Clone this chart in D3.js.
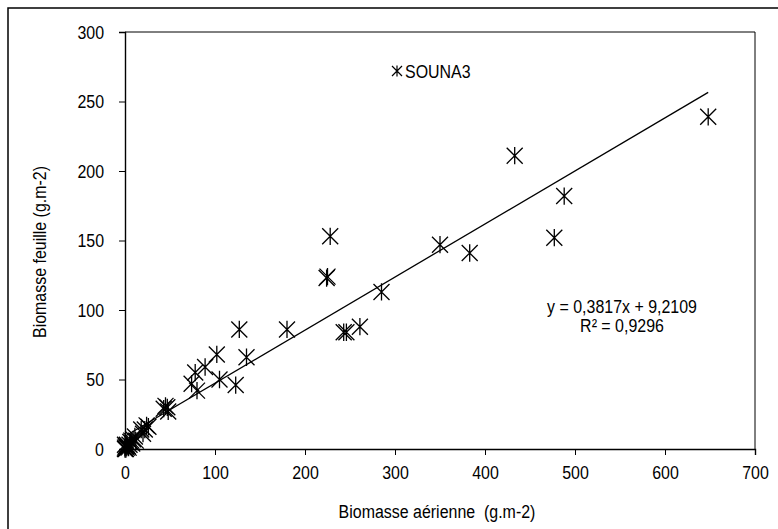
<!DOCTYPE html>
<html><head><meta charset="utf-8">
<script src="https://cdn.jsdelivr.net/npm/d3@7"></script>
<style>
body{margin:0;background:#fff;}
text{font-family:"Liberation Sans",Arial,sans-serif;fill:#000;}
</style></head>
<body><svg id="c" width="778" height="529"></svg>
<script>
// Data: Biomasse aérienne (x) vs Biomasse feuille (y), SOUNA3
const xValues = [0,0,1,1,2,2,3,0,4,5,6,8,9,11,7,12,18,20,22,24,26,43,45,47,48,74,80,78,89,102,105,123,127,135,180,224,225,228,243,246,261,285,350,383,433,477,488,648];
const yValues = [0,1,0,2,1,3,2,3,1,3,5,4,7,9,6,6,14,11,14,17,16,29,31,30,27,47,42,55,59,68,50,46,86,66,86,123,124,153,84,84,88,113,147,141,211,152,182,239];
const xTicks = [0,100,200,300,400,500,600,700];
const yTicks = [0,50,100,150,200,250,300];
const seriesName = "SOUNA3";
const slope = 0.3817, intercept = 9.2109;
const eqLabel = "y = 0,3817x + 9,2109";
const r2Label = "R² = 0,9296";
const xTitle = "Biomasse aérienne  (g.m-2)";
const yTitle = "Biomasse feuille (g.m-2)";

const FS = 19, SX = 0.84;
const svg = d3.select("#c");
const L = 125, R = 755, T = 32, B = 449;
const x = d3.scaleLinear().domain([0,700]).range([L,R]);
const y = d3.scaleLinear().domain([0,300]).range([B,T]);

svg.append("rect").attr("x",8).attr("y",8).attr("width",800).attr("height",600)
  .attr("fill","none").attr("stroke","#000").attr("stroke-width",1.5);
svg.append("path").attr("d",`M${L},${T}H${R}V${B}`).attr("fill","none").attr("stroke","#000").attr("stroke-width",1);

const xAxis = svg.append("g").attr("transform",`translate(0,${B})`)
  .call(d3.axisBottom(x).tickValues(xTicks).tickSize(6).tickPadding(11).tickFormat(d3.format("d")));
const yAxis = svg.append("g").attr("transform",`translate(${L},0)`)
  .call(d3.axisLeft(y).tickValues(yTicks).tickSize(6).tickPadding(15).tickFormat(d3.format("d")));
[xAxis,yAxis].forEach(g=>{
  g.select(".domain").attr("stroke","#000").attr("stroke-width",1.4);
  g.selectAll(".tick line").attr("stroke","#000");
  g.selectAll(".tick text").attr("font-size",FS).attr("font-family","Liberation Sans, Arial, sans-serif").attr("fill","#000")
    .each(function(){
      const t = d3.select(this);
      const ox = +t.attr("x") || 0;
      t.attr("x", ox/SX).attr("transform",`scale(${SX},1)`);
    });
});

const xMin = d3.min(xValues), xMax = d3.max(xValues);
svg.append("line").attr("x1",x(xMin)).attr("y1",y(slope*xMin+intercept))
  .attr("x2",x(xMax)).attr("y2",y(slope*xMax+intercept))
  .attr("stroke","#000").attr("stroke-width",1.3);

function star(s){
  const v = s*1.08;
  return `M${-s},${-s}L${s},${s}M${-s},${s}L${s},${-s}M0,${-v}L0,${v}`;
}
const pts = xValues.map((d,i)=>[d,yValues[i]]);
svg.append("g").selectAll("path").data(pts).join("path")
  .attr("transform",d=>`translate(${x(d[0])},${y(d[1])})`)
  .attr("d",star(8)).attr("fill","none").attr("stroke","#000").attr("stroke-width",1.3);

function label(px, py, txt, anchor, rot){
  svg.append("text")
    .attr("transform",`translate(${px},${py})${rot?" rotate(-90)":""} scale(${SX},1)`)
    .attr("text-anchor",anchor).attr("font-size",FS).style("white-space","pre").text(txt);
}

svg.append("path").attr("transform","translate(397,71)").attr("d",star(5))
  .attr("fill","none").attr("stroke","#000").attr("stroke-width",1.2);
label(405, 78, seriesName, "start");

label(622, 313, eqLabel, "middle");
label(622, 332, r2Label, "middle");

label(437, 518, xTitle, "middle");
label(46, 252, yTitle, "middle", true);
</script></body></html>
